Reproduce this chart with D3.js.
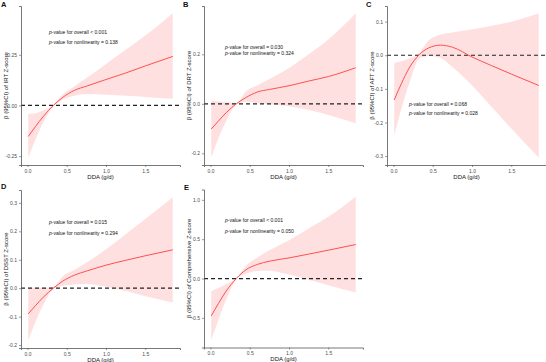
<!DOCTYPE html>
<html>
<head>
<meta charset="utf-8">
<script src="https://cdn.jsdelivr.net/npm/d3@7"></script>
<style>
  body { margin: 0; background: #fff; }
  svg { display: block; font-family: "Liberation Sans", Arial, sans-serif; }
</style>
</head>
<body>
<svg id="chart" width="546" height="362"></svg>
<script>
// DDA grid (g/d) shared by every spline
const dda = [0.01, 0.1, 0.2, 0.33, 0.45, 0.6, 0.75, 1.0, 1.25, 1.5, 1.85];

// estimates and 95% CI per outcome
const estIRT = [-0.153, -0.105, -0.055, 0.0, 0.04, 0.075, 0.095, 0.128, 0.16, 0.195, 0.242];
const lowIRT = [-0.258, -0.17, -0.085, -0.005, 0.028, 0.048, 0.055, 0.053, 0.048, 0.042, 0.033];
const upIRT  = [-0.042, -0.038, -0.025, 0.004, 0.055, 0.095, 0.135, 0.205, 0.275, 0.345, 0.455];

const estDRT = [-0.102, -0.07, -0.036, 0.0, 0.025, 0.048, 0.058, 0.073, 0.092, 0.11, 0.146];
const lowDRT = [-0.218, -0.14, -0.07, -0.003, 0.008, 0.002, -0.002, -0.01, -0.025, -0.045, -0.079];
const upDRT  = [0.012, 0.01, 0.006, 0.003, 0.05, 0.075, 0.1, 0.145, 0.2, 0.26, 0.366];

const estAFT = [-0.133, -0.085, -0.038, 0.002, 0.022, 0.03, 0.024, -0.005, -0.031, -0.056, -0.09];
const lowAFT = [-0.24, -0.16, -0.085, -0.01, -0.002, -0.008, -0.035, -0.09, -0.154, -0.218, -0.305];
const upAFT  = [-0.022, -0.018, -0.01, 0.008, 0.045, 0.062, 0.068, 0.077, 0.088, 0.1, 0.125];

const estDSST = [-0.09, -0.062, -0.032, 0.0, 0.025, 0.046, 0.06, 0.081, 0.098, 0.114, 0.135];
const lowDSST = [-0.185, -0.12, -0.06, -0.003, 0.008, 0.013, 0.015, 0.005, -0.01, -0.028, -0.05];
const upDSST  = [0.003, 0.002, 0.002, 0.004, 0.042, 0.065, 0.09, 0.137, 0.19, 0.243, 0.32];

const estComp = [-0.475, -0.32, -0.16, 0.0, 0.11, 0.18, 0.22, 0.262, 0.31, 0.36, 0.432];
const lowComp = [-0.785, -0.53, -0.27, -0.01, 0.06, 0.095, 0.1, 0.05, -0.015, -0.085, -0.178];
const upComp  = [-0.16, -0.12, -0.07, 0.01, 0.16, 0.27, 0.36, 0.487, 0.635, 0.784, 1.04];

const panelLetters = ["A", "B", "C", "D", "E"];
const yTitles = [
  "β (95%CI) of IRT Z-score",
  "β (95%CI) of DRT Z-score",
  "β (95%CI) of AFT Z-score",
  "β (95%CI) of DSST Z-score",
  "β (95%CI) of Comprehensive Z-score"
];
const pOverall = ["< 0.001", "= 0.030", "= 0.068", "= 0.015", "< 0.001"];
const pNonlin  = ["= 0.138", "= 0.324", "= 0.028", "= 0.294", "= 0.050"];

const xTicks = [0, 0.5, 1.0, 1.5];
const yTicksIRT  = [-0.25, 0, 0.25];
const yTicksDRT  = [-0.2, 0, 0.2];
const yTicksAFT  = [-0.3, -0.2, -0.1, 0, 0.1];
const yTicksDSST = [-0.2, -0.1, 0, 0.1, 0.2, 0.3];
const yTicksComp = [-0.5, 0, 0.5, 1.0];

const series = [
  { est: estIRT,  low: lowIRT,  up: upIRT,  ticks: yTicksIRT,  dec: 2 },
  { est: estDRT,  low: lowDRT,  up: upDRT,  ticks: yTicksDRT,  dec: 1 },
  { est: estAFT,  low: lowAFT,  up: upAFT,  ticks: yTicksAFT,  dec: 1 },
  { est: estDSST, low: lowDSST, up: upDSST, ticks: yTicksDSST, dec: 1 },
  { est: estComp, low: lowComp, up: upComp, ticks: yTicksComp, dec: 1 }
];

// layout: plot area box + annotation offsets (relative to plot area)
const layout = [
  { x: 21,  y: 6,     w: 159, h: 159, tx: 28, ty1: 28,   ty2: 37.5, lx: 1,   ly: 7 },
  { x: 204, y: 6,     w: 159, h: 159, tx: 21, ty1: 42.5, ty2: 49,   lx: 183, ly: 7 },
  { x: 387, y: 6,     w: 159, h: 159, tx: 22, ty1: 99.5, ty2: 109,  lx: 366, ly: 7 },
  { x: 21,  y: 190,   w: 159, h: 158, tx: 28, ty1: 34,   ty2: 44.5, lx: 1,   ly: 189 },
  { x: 204, y: 189.5, w: 159, h: 158, tx: 21, ty1: 32.5, ty2: 43,   lx: 184, ly: 190 }
];

const lineColor = "#FF4F4F";
const svg = d3.select("#chart");

const expand = (ext) => {
  const pad = (ext[1] - ext[0]) * 0.05;
  return [ext[0] - pad, ext[1] + pad];
};

series.forEach((s, i) => {
  const L = layout[i];
  const g = svg.append("g").attr("transform", `translate(${L.x},${L.y})`);

  const x = d3.scaleLinear().domain(expand(d3.extent(dda))).range([0, L.w]);
  const y = d3.scaleLinear()
    .domain(expand([d3.min(s.low), d3.max(s.up)]))
    .range([L.h, 0]);

  const rows = dda.map((d, k) => ({ x: d, est: s.est[k], low: s.low[k], up: s.up[k] }));

  // CI ribbon
  g.append("path")
    .datum(rows)
    .attr("fill", "#FF0000")
    .attr("fill-opacity", 0.12)
    .attr("d", d3.area()
      .x(d => x(d.x))
      .y0(d => y(d.low))
      .y1(d => y(d.up))
      .curve(d3.curveMonotoneX));

  // reference line at 0
  g.append("line")
    .attr("x1", 0).attr("x2", L.w)
    .attr("y1", y(0)).attr("y2", y(0))
    .attr("stroke", "#222")
    .attr("stroke-width", 1.2)
    .attr("stroke-dasharray", "4,3");

  // spline estimate
  g.append("path")
    .datum(rows)
    .attr("fill", "none")
    .attr("stroke", lineColor)
    .attr("stroke-width", 1)
    .attr("d", d3.line()
      .x(d => x(d.x))
      .y(d => y(d.est))
      .curve(d3.curveMonotoneX));

  // axes
  const fmtY = v => d3.format(`.${s.dec}f`)(v).replace("−", "-");
  const xAxis = g.append("g")
    .attr("transform", `translate(0,${L.h})`)
    .call(d3.axisBottom(x).tickValues(xTicks).tickFormat(d3.format(".1f")).tickSize(2).tickPadding(2));
  const yAxis = g.append("g")
    .call(d3.axisLeft(y).tickValues(s.ticks).tickFormat(fmtY).tickSize(2).tickPadding(2));

  [xAxis, yAxis].forEach(a => {
    a.select(".domain").attr("stroke", "#555").attr("stroke-width", 0.8);
    a.selectAll(".tick line").attr("stroke", "#555").attr("stroke-width", 0.6);
    a.selectAll(".tick text")
      .attr("fill", "#4d4d4d")
      .style("font-size", "5px")
      .style("font-family", "Liberation Sans, Arial, sans-serif");
  });

  // axis titles
  g.append("text")
    .attr("x", L.w / 2)
    .attr("y", L.h + 13.5)
    .attr("text-anchor", "middle")
    .attr("font-size", 6)
    .attr("fill", "#111")
    .text("DDA (g/d)");

  g.append("text")
    .attr("transform", `translate(-13,${L.h / 2}) rotate(-90)`)
    .attr("text-anchor", "middle")
    .attr("font-size", 6)
    .attr("fill", "#111")
    .text(yTitles[i]);

  // p-value annotations
  [[L.ty1, "overall ", pOverall[i]], [L.ty2, "nonlinearity ", pNonlin[i]]].forEach(([ty, what, val]) => {
    const t = g.append("text")
      .attr("x", L.tx)
      .attr("y", ty)
      .attr("font-size", 5)
      .attr("fill", "#111");
    t.append("tspan").attr("font-style", "italic").text("p");
    t.append("tspan").text(`-value for ${what}${val}`);
  });

  // panel letter
  svg.append("text")
    .attr("x", L.lx)
    .attr("y", L.ly)
    .attr("font-size", 7.5)
    .attr("font-weight", "bold")
    .attr("fill", "#111")
    .text(panelLetters[i]);
});
</script>
</body>
</html>
